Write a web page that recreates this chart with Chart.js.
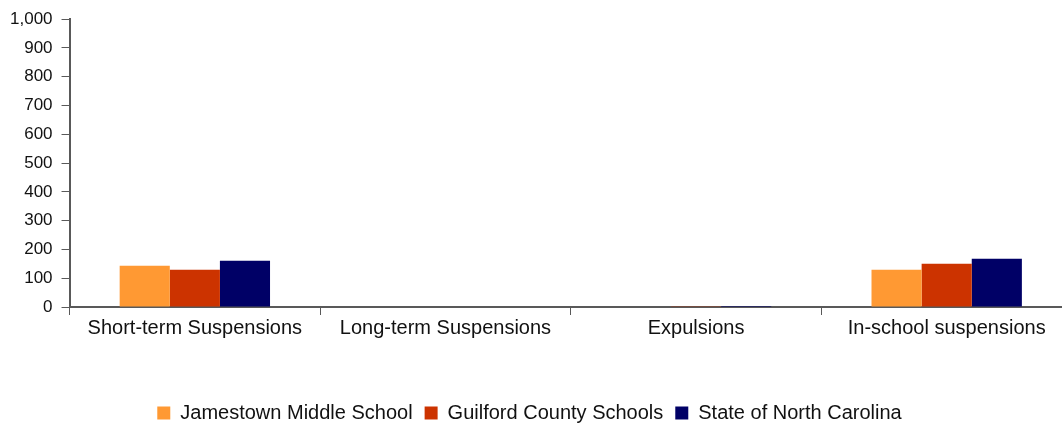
<!DOCTYPE html>
<html>
<head>
<meta charset="utf-8">
<script src="https://cdn.jsdelivr.net/npm/chart.js@4"></script>
<style>
  html, body { margin: 0; padding: 0; background: #fff; overflow: hidden; }
  #wrap { width: 1072px; height: 423px; }
</style>
</head>
<body>
<div id="wrap"><canvas id="chart"></canvas></div>
<script>
const categories = ["Short-term Suspensions", "Long-term Suspensions", "Expulsions", "In-school suspensions"];
const jamestown = [143, 0, 0, 129];
const guilford = [129, 2, 0.6, 150];
const northCarolina = [161, 1.5, 0.4, 168];

const axisColor = "#595959";
Chart.defaults.font.family = "'Liberation Sans', Arial, sans-serif";
Chart.defaults.font.size = 20;
Chart.defaults.color = "#111";

// the plot runs past the right edge of the window, keep the legend centred on the window
const legendShift = {
    id: "legendShift",
    afterLayout: function (chart) {
        chart.legend.left -= 7;
        chart.legend.right -= 7;
    },
};

var ctx = document.getElementById("chart").getContext("2d");
var chart = new Chart(ctx, {
    type: "bar",
    data: {
        labels: categories,
        datasets: [
            { label: "Jamestown Middle School", data: jamestown, backgroundColor: "#FF9933" },
            { label: "Guilford County Schools", data: guilford, backgroundColor: "#CC3300" },
            { label: "State of North Carolina", data: northCarolina, backgroundColor: "#000066" },
        ],
    },
    options: {
        responsive: true,
        maintainAspectRatio: false,
        animation: false,
        datasets: { bar: { categoryPercentage: 0.6, barPercentage: 1.0 } },
        layout: { padding: { top: 8, left: 1, right: 0, bottom: -10 } },
        plugins: {
            tooltip: { enabled: false },
            legend: {
                position: "bottom",
                labels: { boxWidth: 13, boxHeight: 13, padding: 12 },
            },
        },
        scales: {
            x: {
                grid: { offset: true, drawOnChartArea: false, color: axisColor, tickLength: 8 },
                border: { color: axisColor, width: 2 },
                ticks: { padding: 1 },
                afterFit: function (scale) { scale.height += 50; },
            },
            y: {
                min: 0,
                max: 1000,
                ticks: { stepSize: 100, padding: 9, font: { size: 17 } },
                grid: { drawOnChartArea: false, color: axisColor, tickLength: 8 },
                border: { color: axisColor, width: 2 },
            },
        },
    },
    plugins: [legendShift],
});
</script>
</body>
</html>
